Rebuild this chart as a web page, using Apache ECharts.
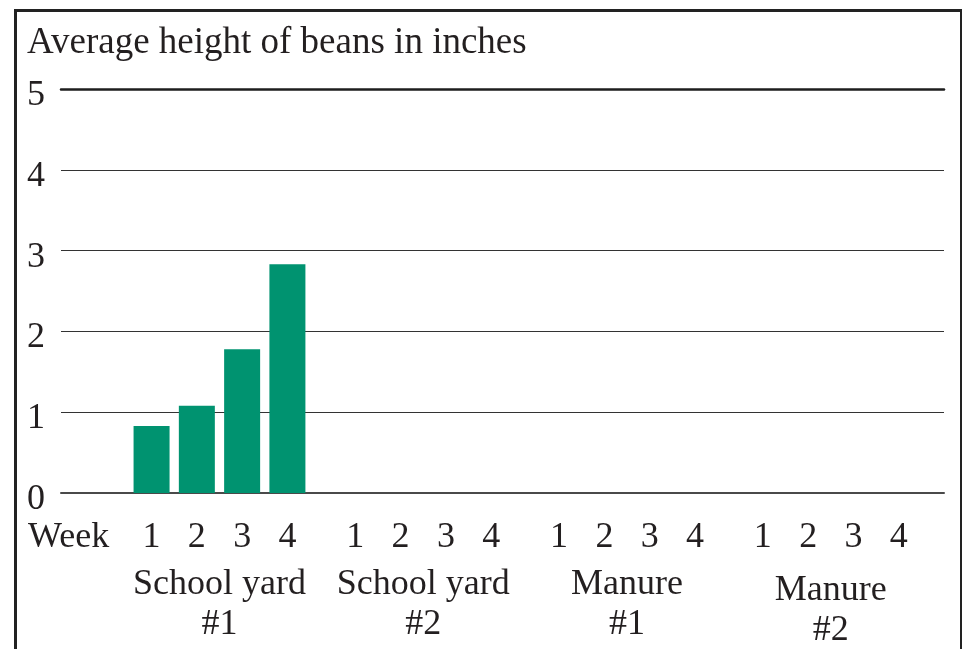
<!DOCTYPE html>
<html>
<head>
<meta charset="utf-8">
<script src="https://cdn.jsdelivr.net/npm/echarts@6/dist/echarts.min.js"></script>
<style>html,body{margin:0;padding:0;background:#fff}#c{width:962px;height:649px}</style>
</head>
<body>
<div id="c"></div>
<script>
// ---- data ----
const titleText = 'Average height of beans in inches';
const weekLabels = ['1', '2', '3', '4'];
const weekWord = 'Week';
const groupLabels = ['School yard\n#1', 'School yard\n#2', 'Manure\n#1', 'Manure\n#2'];
const schoolYard1 = [0.83, 1.08, 1.78, 2.83];
const schoolYard2 = [null, null, null, null];
const manure1 = [null, null, null, null];
const manure2 = [null, null, null, null];
const yTicks = [0, 1, 2, 3, 4, 5];

// ---- layout helpers (positions on the value x-axis) ----
const groupSeries = [schoolYard1, schoolYard2, manure1, manure2];
const GROUP_STEP = 4.5;
function pos(g, w) { return g * GROUP_STEP + w + 1; }
const weekPos = {};
const groupPos = {};
groupSeries.forEach((vals, g) => {
  weekLabels.forEach((lab, w) => { weekPos[pos(g, w)] = lab; });
  groupPos[pos(g, 1.5)] = { text: groupLabels[g], g: g };
});
const barData = [];
groupSeries.forEach((vals, g) => vals.forEach((v, w) => { if (v != null) barData.push([pos(g, w), v]); }));
const lastGroup = groupSeries.length - 1;

const FONT = '"Liberation Serif", "DejaVu Serif", serif';
const TXT = '#231f20';
function groupAxis(margin, pick) {
  return {
    type: 'value', position: 'bottom', min: -1, max: 18.5, interval: 0.5,
    axisLine: { show: false }, axisTick: { show: false }, splitLine: { show: false },
    axisLabel: {
      margin: margin, fontFamily: FONT, fontSize: 36, lineHeight: 40, color: TXT,
      formatter: v => (groupPos[v] !== undefined && pick(groupPos[v].g)) ? groupPos[v].text : ''
    }
  };
}
const chart = echarts.init(document.getElementById('c'));
chart.setOption({
  animation: false,
  backgroundColor: '#fff',
  title: {
    text: titleText, left: 27, top: 25, padding: 0,
    textStyle: { fontFamily: FONT, fontSize: 37, fontWeight: 'normal', color: TXT }
  },
  graphic: [{
    type: 'rect', left: 13, top: 8,
    shape: { x: 0, y: 0, width: 946, height: 700 },
    style: { fill: 'none', stroke: '#222', lineWidth: 3 }, silent: true
  }],
  grid: { left: 61, right: 18, top: 89, bottom: 156, containLabel: false, outerBoundsMode: 'none' },
  xAxis: [{
    type: 'value', position: 'bottom', min: -1, max: 18.5, interval: 0.5,
    axisLine: { show: true, lineStyle: { color: '#4a4a4a', width: 2 } },
    axisTick: { show: false }, splitLine: { show: false },
    axisLabel: {
      margin: 27, fontFamily: FONT, fontSize: 36, color: TXT,
      formatter: v => v === -0.5 ? '{w|' + weekWord + '}' : (weekPos[v] !== undefined ? weekPos[v] : ''),
      rich: { w: { fontFamily: FONT, fontSize: 36, color: TXT, padding: [0, 30, 0, 0] } }
    }
  },
  groupAxis(72, g => g !== lastGroup),
  groupAxis(78, g => g === lastGroup),
  {
    type: 'value', position: 'top', min: -1, max: 18.5,
    axisLine: { show: true, lineStyle: { color: '#1e1e1e', width: 2.5 } },
    axisTick: { show: false }, axisLabel: { show: false }, splitLine: { show: false }
  }],
  yAxis: {
    type: 'value', min: yTicks[0], max: yTicks[yTicks.length - 1], interval: 1,
    axisLine: { show: false }, axisTick: { show: false },
    axisLabel: { margin: 16, color: TXT,
      formatter: v => yTicks.indexOf(v) >= 0 ? '{y|' + v + '}' : '',
      rich: { y: { fontFamily: FONT, fontSize: 36, color: TXT, padding: [13, 0, 0, 0] } } },
    splitLine: { show: true, lineStyle: { color: '#333', width: 1.2 } }
  },
  series: [{
    type: 'bar', xAxisIndex: 0, yAxisIndex: 0,
    data: barData, barWidth: 36,
    itemStyle: { color: '#009370' }
  }]
});
</script>
</body>
</html>
